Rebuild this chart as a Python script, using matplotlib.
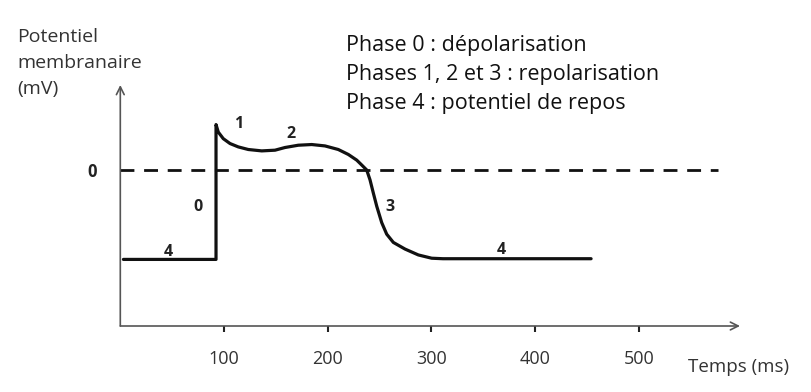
import matplotlib
matplotlib.use("Agg")
import matplotlib.pyplot as plt

# ---- data ----
t_curve = [3, 92.3, 92.3, 94.5, 99.3, 105.8, 113.8, 123.4, 136.4, 149.2, 158.8,
           171.6, 184.6, 197.4, 210.2, 219.9, 228.0, 232.8, 237.6, 240.8, 244.0,
           247.3, 252.1, 256.9, 263.3, 274.6, 287.4, 300.3, 311.2, 454]
v_curve = [-90, -90, 45.7, 38.1, 31.5, 26.6, 23.2, 20.6, 19.2, 19.9, 22.6,
           24.9, 25.6, 24.2, 20.6, 15.6, 9.9, 5.0, 0.0, -9.9, -23.2,
           -36.5, -53.0, -64.6, -72.9, -79.6, -85.5, -88.8, -89.3, -89.3]
x_ticks = [100, 200, 300, 400, 500]
zero_level = 0
phase_labels = ["1", "2", "0", "4", "3", "4"]
phase_t = [114, 165, 75, 46, 260, 367]
phase_v = [46.5, 36.6, -37.6, -83, -37.6, -81]
legend_lines = ["Phase 0 : dépolarisation",
                "Phases 1, 2 et 3 : repolarisation",
                "Phase 4 : potentiel de repos"]

FONT = ["Open Sans", "DejaVu Sans"]
W, H = 812, 392
fig = plt.figure(figsize=(W / 100, H / 100), dpi=100)
ax = fig.add_axes([120.3 / W, (H - 326) / H, (740 - 120.3) / W, (326 - 85) / H])
ax.set_xlim(0, 597.6)
ax.set_ylim(-157, 85.5)
for s in ax.spines.values():
    s.set_visible(False)

axis_col = "#555555"
# axes with arrows
ax.annotate("", xy=(1, 0), xytext=(0, 0), xycoords="axes fraction",
            arrowprops=dict(arrowstyle="->", color=axis_col, lw=1.2,
                            mutation_scale=14, shrinkA=0, shrinkB=0))
ax.annotate("", xy=(0, 1), xytext=(0, 0), xycoords="axes fraction",
            arrowprops=dict(arrowstyle="->", color=axis_col, lw=1.2,
                            mutation_scale=14, shrinkA=0, shrinkB=0))

# zero dashed line
ax.plot([0, 576], [zero_level, zero_level], color="#111111", lw=2.0,
        dashes=(5, 3.5), solid_capstyle="butt")

# action potential curve
ax.plot(t_curve, v_curve, color="#111111", lw=2.3, solid_joinstyle="round",
        solid_capstyle="round")

# ticks
ax.set_xticks(x_ticks)
ax.set_xticklabels([str(v) for v in x_ticks], fontfamily=FONT, fontsize=13,
                   color="#333333")
ax.tick_params(axis="x", direction="out", length=4.5, width=1.5, color="#222222",
               pad=13)
ax.set_yticks([zero_level])
ax.set_yticklabels(["0"], fontfamily=FONT, fontsize=12, fontweight="bold",
                   color="#222222")
ax.tick_params(axis="y", length=0, pad=17)

# phase numbers
for lab, tt, vv in zip(phase_labels, phase_t, phase_v):
    ax.text(tt, vv, lab, ha="center", va="center", fontsize=11.5,
            fontweight="bold", fontfamily=FONT, color="#222222")

# axis titles
fig.text(17 / W, 1 - 63 / H, "Potentiel\nmembranaire\n(mV)", ha="left",
         va="center", fontsize=14, fontfamily=FONT, color="#333333",
         linespacing=1.6)
fig.text(688 / W, 1 - 367 / H, "Temps (ms)", ha="left", va="center",
         fontsize=13.5, fontfamily=FONT, color="#333333")

# legend text
for i, line in enumerate(legend_lines):
    fig.text(346 / W, 1 - (45 + 29.5 * i) / H, line, ha="left", va="center",
             fontsize=15.5, fontfamily=FONT, color="#111111")

fig.savefig("out.png", dpi=100, facecolor="white")
